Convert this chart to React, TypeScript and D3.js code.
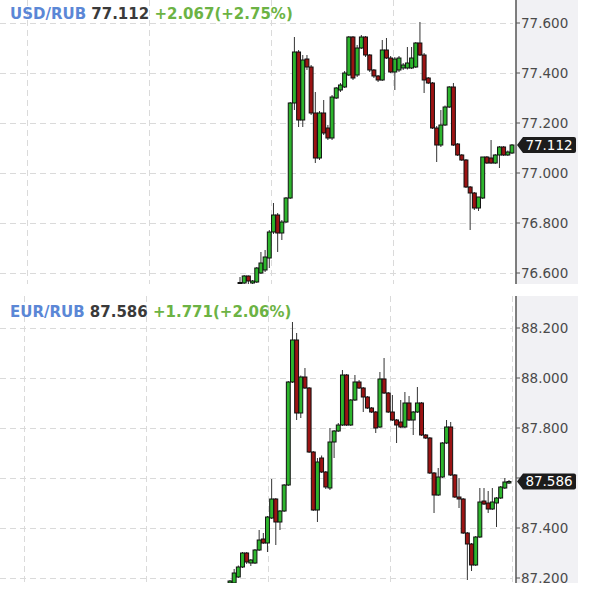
import React from 'react';
import * as d3 from 'd3';

// ---------- USD/RUB candles ----------
const usdOpen = [
  76.560, 76.560, 76.588, 76.560, 76.564, 76.600, 76.612, 76.660, 76.764, 76.832,
  76.760, 76.804, 76.900, 77.280, 77.484, 77.212, 77.456, 77.424, 77.240, 77.060,
  77.240, 77.180, 77.140, 77.300, 77.332, 77.344, 77.392, 77.544, 77.392, 77.500,
  77.544,
  77.472, 77.412, 77.388, 77.372, 77.492, 77.460, 77.404, 77.412, 77.420, 77.420,
  77.420, 77.424, 77.520, 77.472, 77.380, 77.360, 77.180, 77.112, 77.192, 77.264,
  77.344, 77.116, 77.072, 77.052, 76.944, 76.920, 76.860, 76.900, 77.064, 77.060,
  77.040, 77.072, 77.104, 77.072, 77.080,
];
const usdHigh = [
  76.584, 76.592, 76.590, 76.572, 76.624, 76.684, 76.692, 76.772, 76.880, 76.840,
  76.812, 76.904, 77.284, 77.544, 77.492, 77.472, 77.472, 77.432, 77.324, 77.248,
  77.292, 77.192, 77.312, 77.344, 77.360, 77.408, 77.548, 77.548, 77.512, 77.552,
  77.548,
  77.476, 77.416, 77.392, 77.532, 77.540, 77.468, 77.464, 77.468, 77.440, 77.504,
  77.504, 77.524, 77.604, 77.480, 77.384, 77.364, 77.188, 77.252, 77.270, 77.348,
  77.360, 77.120, 77.076, 77.056, 76.948, 76.924, 76.904, 77.064, 77.068, 77.132,
  77.076, 77.108, 77.108, 77.090, 77.116,
];
const usdLow = [
  76.556, 76.556, 76.556, 76.556, 76.560, 76.596, 76.604, 76.620, 76.756, 76.684,
  76.732, 76.800, 76.896, 77.252, 77.184, 77.184, 77.412, 77.232, 77.040, 77.052,
  77.152, 77.132, 77.132, 77.296, 77.324, 77.340, 77.388, 77.372, 77.384, 77.496,
  77.464,
  77.404, 77.380, 77.364, 77.368, 77.456, 77.400, 77.332, 77.404, 77.412, 77.414,
  77.416, 77.420, 77.468, 77.320, 77.356, 77.176, 77.044, 77.104, 77.188, 77.260,
  77.108, 77.068, 77.048, 76.940, 76.772, 76.852, 76.848, 76.896, 77.036, 77.036,
  77.036, 77.020, 77.068, 77.068, 77.076,
];
const usdClose = [
  76.562, 76.588, 76.568, 76.568, 76.620, 76.640, 76.664, 76.764, 76.832, 76.760,
  76.804, 76.900, 77.280, 77.484, 77.212, 77.452, 77.424, 77.240, 77.060, 77.240,
  77.160, 77.140, 77.304, 77.340, 77.352, 77.400, 77.544, 77.380, 77.500, 77.544,
  77.472,
  77.412, 77.388, 77.372, 77.492, 77.460, 77.404, 77.456, 77.460, 77.432, 77.440,
  77.460, 77.520, 77.472, 77.372, 77.360, 77.180, 77.112, 77.192, 77.264, 77.344,
  77.112, 77.072, 77.052, 76.944, 76.920, 76.860, 76.904, 77.064, 77.040, 77.040,
  77.072, 77.104, 77.072, 77.084, 77.112,
];
const usdTicks = [76.6, 76.8, 77.0, 77.2, 77.4, 77.6];
const usdSymbol = 'USD/RUB';
const usdLast = 77.112;
const usdChange = '+2.067(+2.75%)';

// ---------- EUR/RUB candles ----------
const eurOpen = [
  87.180, 87.180, 87.204, 87.244, 87.300, 87.260, 87.260, 87.312, 87.356, 87.340,
  87.440, 87.516, 87.424, 87.468, 87.572, 87.984, 88.152, 87.860, 88.004, 87.960,
  87.704, 87.472, 87.680, 87.624, 87.560, 87.744, 87.788, 87.812, 88.012, 87.812,
  87.912, 87.984, 87.960, 87.924, 87.880, 87.864, 87.804, 87.996, 87.940, 87.864,
  87.832, 87.824, 87.804, 87.900, 87.832, 87.864, 87.900, 87.772, 87.760, 87.620,
  87.532, 87.604, 87.740, 87.804, 87.612, 87.524, 87.516, 87.380, 87.336, 87.252,
  87.364, 87.508, 87.500, 87.476, 87.500, 87.520, 87.560, 87.580,
];
const eurHigh = [
  87.192, 87.236, 87.250, 87.304, 87.304, 87.276, 87.316, 87.392, 87.380, 87.448,
  87.596, 87.520, 87.472, 87.576, 87.988, 88.224, 88.180, 88.010, 88.040, 87.964,
  87.708, 87.680, 87.690, 87.628, 87.800, 87.792, 87.820, 88.032, 88.016, 87.916,
  88.012, 87.992, 87.964, 87.928, 87.884, 87.868, 88.024, 88.080, 87.944, 87.932,
  87.836, 87.912, 87.944, 87.928, 87.868, 87.964, 87.904, 87.776, 87.764, 87.624,
  87.640, 87.744, 87.832, 87.824, 87.616, 87.600, 87.520, 87.384, 87.340, 87.368,
  87.560, 87.560, 87.548, 87.560, 87.524, 87.568, 87.600, 87.592,
];
const eurLow = [
  87.176, 87.176, 87.200, 87.240, 87.256, 87.248, 87.256, 87.308, 87.336, 87.304,
  87.436, 87.332, 87.392, 87.464, 87.568, 87.980, 87.832, 87.840, 87.956, 87.700,
  87.468, 87.424, 87.620, 87.556, 87.552, 87.680, 87.784, 87.808, 87.808, 87.808,
  87.908, 87.956, 87.864, 87.876, 87.860, 87.780, 87.800, 87.936, 87.860, 87.828,
  87.740, 87.800, 87.800, 87.828, 87.772, 87.860, 87.768, 87.756, 87.616, 87.460,
  87.528, 87.600, 87.736, 87.608, 87.520, 87.480, 87.376, 87.192, 87.228, 87.248,
  87.360, 87.492, 87.460, 87.472, 87.404, 87.516, 87.556, 87.576,
];
const eurClose = [
  87.188, 87.220, 87.244, 87.300, 87.264, 87.272, 87.312, 87.352, 87.340, 87.444,
  87.516, 87.424, 87.468, 87.572, 87.984, 88.152, 87.860, 88.004, 87.960, 87.704,
  87.472, 87.664, 87.624, 87.564, 87.744, 87.788, 87.812, 88.012, 87.812, 87.912,
  87.984, 87.960, 87.924, 87.880, 87.864, 87.800, 87.996, 87.940, 87.864, 87.832,
  87.812, 87.804, 87.900, 87.832, 87.864, 87.900, 87.772, 87.760, 87.620, 87.532,
  87.604, 87.740, 87.804, 87.612, 87.524, 87.516, 87.380, 87.336, 87.252, 87.364,
  87.504, 87.496, 87.476, 87.504, 87.520, 87.564, 87.584, 87.586,
];
const eurTicks = [87.2, 87.4, 87.6, 87.8, 88.0, 88.2];
const eurSymbol = 'EUR/RUB';
const eurLast = 87.586;
const eurChange = '+1.771(+2.06%)';

const FONT = "'DejaVu Sans', Verdana, sans-serif";
const AXIS_X = 516;
const AXIS_BG_END = 578;
const GREEN = '#2db52d';
const RED = '#9c1313';

type PanelProps = {
  id: string;
  top: number;
  bottom: number;
  yRange: [number, number];
  xFirst: number;
  xLast: number;
  gridX: number[];
  headerY: number;
  open: number[];
  high: number[];
  low: number[];
  close: number[];
  ticks: number[];
  symbol: string;
  last: number;
  change: string;
};

function Panel(p: PanelProps) {
  const n = p.open.length;
  const x = d3.scaleLinear().domain([0, n - 1]).range([p.xFirst, p.xLast]);
  const y = d3.scaleLinear().domain([p.ticks[0], p.ticks[p.ticks.length - 1]]).range(p.yRange);
  const fmt = d3.format('.3f');
  const bw = 3.9;
  const ly = y(p.last);
  return (
    <g>
      <defs>
        <clipPath id={`clip-${p.id}`}>
          <rect x={0} y={p.top} width={AXIS_X} height={p.bottom - p.top} />
        </clipPath>
      </defs>
      <rect x={AXIS_X} y={p.top} width={AXIS_BG_END - AXIS_X} height={p.bottom - p.top} fill="#f1f1f4" />
      {p.ticks.map((t) => (
        <line key={`h${t}`} x1={0} x2={AXIS_X - 3} y1={Math.round(y(t)) + 0.5} y2={Math.round(y(t)) + 0.5}
          stroke="#dadada" strokeWidth={1} strokeDasharray="6,4" />
      ))}
      {p.gridX.map((gx) => (
        <line key={`v${gx}`} x1={gx + 0.5} x2={gx + 0.5} y1={p.top} y2={p.bottom}
          stroke="#dadada" strokeWidth={1} strokeDasharray="6,4" />
      ))}
      <g clipPath={`url(#clip-${p.id})`}>
        {p.open.map((o, i) => {
          const c = p.close[i];
          const cx = x(i);
          const yT = y(Math.max(o, c));
          const yB = y(Math.min(o, c));
          return (
            <g key={i}>
              <line x1={cx} x2={cx} y1={y(p.high[i])} y2={y(p.low[i])} stroke="#333" strokeWidth={1} />
              <rect x={cx - bw / 2} y={yT} width={bw} height={Math.max(1, yB - yT)}
                fill={c >= o ? GREEN : RED} stroke="#111" strokeWidth={1} />
            </g>
          );
        })}
      </g>
      <line x1={AXIS_X} x2={AXIS_X} y1={p.top} y2={p.bottom} stroke="#555" strokeWidth={1.5} />
      {p.ticks.map((t) => (
        <g key={`t${t}`}>
          <line x1={AXIS_X} x2={AXIS_X + 4} y1={y(t)} y2={y(t)} stroke="#555" strokeWidth={1} />
          {Math.abs(y(t) - ly) > 11 && (
            <text x={AXIS_X + 5} y={y(t)} dy="0.36em" fontFamily={FONT} fontSize={13.5} fill="#4a4a4a">
              {fmt(t)}
            </text>
          )}
        </g>
      ))}
      <path
        d={`M${AXIS_X + 1},${ly} L${AXIS_X + 7},${ly - 8} L${AXIS_X + 58},${ly - 8} Q${AXIS_X + 60},${ly - 8} ${AXIS_X + 60},${ly - 6} L${AXIS_X + 60},${ly + 6} Q${AXIS_X + 60},${ly + 8} ${AXIS_X + 58},${ly + 8} L${AXIS_X + 7},${ly + 8} Z`}
        fill="#1c1c1c"
      />
      <text x={AXIS_X + 33} y={ly} dy="0.36em" textAnchor="middle" fontFamily={FONT} fontSize={13.5} fill="#fff">
        {fmt(p.last)}
      </text>
      <text x={10} y={p.headerY} fontFamily={FONT} fontSize={15} fontWeight="bold">
        <tspan fill="#5b87d6">{p.symbol}</tspan>
        <tspan fill="#3a3a3a">{' ' + fmt(p.last)}</tspan>
        <tspan fill="#6cb344">{' ' + p.change}</tspan>
      </text>
    </g>
  );
}

export default function App() {
  return (
    <svg width={594} height={600} style={{ position: 'fixed', left: 0, top: 0, background: '#fff' }}>
      <rect x={0} y={0} width={594} height={600} fill="#fff" />
      <Panel id="usd" top={0} bottom={284} yRange={[273, 23]} xFirst={240} xLast={512}
        gridX={[27, 149, 271, 393]} headerY={19}
        open={usdOpen} high={usdHigh} low={usdLow} close={usdClose} ticks={usdTicks}
        symbol={usdSymbol} last={usdLast} change={usdChange} />
      <Panel id="eur" top={296} bottom={583} yRange={[578, 328]} xFirst={230} xLast={509}
        gridX={[24, 146, 268, 390, 512]} headerY={317}
        open={eurOpen} high={eurHigh} low={eurLow} close={eurClose} ticks={eurTicks}
        symbol={eurSymbol} last={eurLast} change={eurChange} />
    </svg>
  );
}
